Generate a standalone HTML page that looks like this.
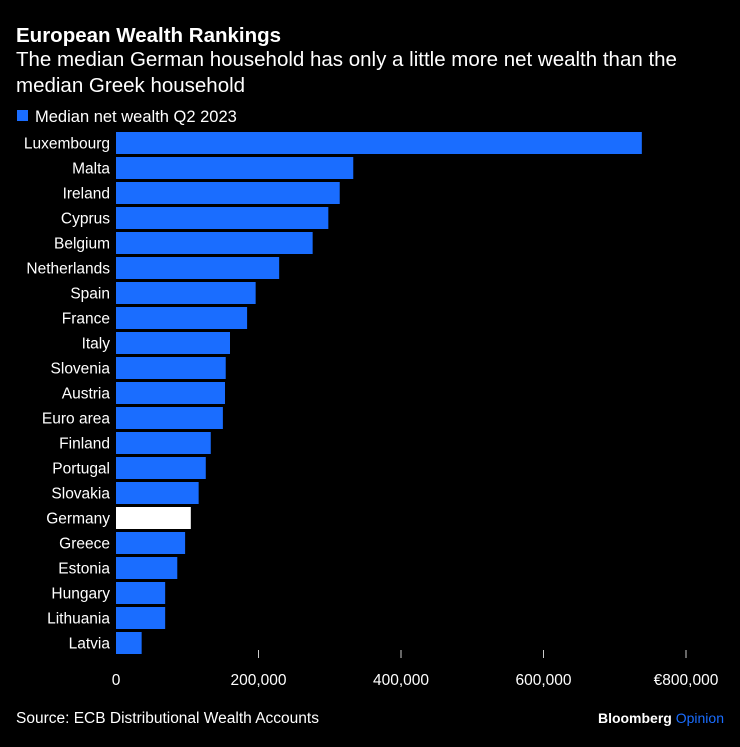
<!DOCTYPE html>
<html><head><meta charset="utf-8"><style>
body{margin:0;background:#000;width:740px;height:742px;overflow:hidden;font-family:"Liberation Sans",sans-serif;color:#fff}
</style></head><body>
<svg width="740" height="742" id="c" font-family="Liberation Sans, sans-serif">
<text x="16" y="42" font-size="20.5" font-weight="bold" fill="#fff">European Wealth Rankings</text>
<text x="16" y="66" font-size="20.5" fill="#fff">The median German household has only a little more net wealth than the</text>
<text x="16" y="92" font-size="20.5" fill="#fff">median Greek household</text>
<rect x="17" y="110" width="11" height="11" fill="#1a6dff"/>
<text x="35" y="122" font-size="16.5" fill="#fff">Median net wealth Q2 2023</text>
<g id="bars"></g>
<g id="axis"></g>
<text x="16" y="723" font-size="15.5" fill="#fff">Source: ECB Distributional Wealth Accounts</text>
<text x="724" y="723" font-size="14" text-anchor="end" font-weight="bold" fill="#fff">Bloomberg <tspan fill="#1a6dff" font-weight="normal">Opinion</tspan></text>
</svg>
<script>
const categories=["Luxembourg","Malta","Ireland","Cyprus","Belgium","Netherlands","Spain","France","Italy","Slovenia","Austria","Euro area","Finland","Portugal","Slovakia","Germany","Greece","Estonia","Hungary","Lithuania","Latvia"];
const values=[738000,333000,314000,298000,276000,229000,196000,184000,160000,154000,153000,150000,133000,126000,116000,105000,97000,86000,69000,69000,36000];
const ticks=[0,200000,400000,600000,800000];
const tickLabels=["0","200,000","400,000","600,000","€800,000"];
const NS="http://www.w3.org/2000/svg";
const x=v=>116+v*(570/800000);
const y=i=>132+i*25;
const bars=document.getElementById('bars'),axis=document.getElementById('axis');
categories.forEach((c,i)=>{
 const r=document.createElementNS(NS,'rect');
 r.setAttribute('x',x(0));r.setAttribute('y',y(i));r.setAttribute('width',x(values[i])-x(0));r.setAttribute('height',22);
 r.setAttribute('fill',c==="Germany"?"#fff":"#1a6dff");
 
 
 bars.appendChild(r);
 const t=document.createElementNS(NS,'text');
 t.setAttribute('x',110);t.setAttribute('y',y(i)+16.5);t.setAttribute('text-anchor','end');t.setAttribute('font-size','15.5');t.setAttribute('fill','#fff');
 t.textContent=c;
 
 
 bars.appendChild(t);
});
ticks.forEach((v,i)=>{
 if(i>0){const l=document.createElementNS(NS,'line');
 l.setAttribute('x1',x(v));l.setAttribute('x2',x(v));l.setAttribute('y1',650);l.setAttribute('y2',658);l.setAttribute('stroke','#ccc');l.setAttribute('stroke-width','1');
 
 
 axis.appendChild(l);}
 const t=document.createElementNS(NS,'text');
 t.setAttribute('x',x(v));t.setAttribute('y',685);t.setAttribute('text-anchor','middle');t.setAttribute('font-size','15.5');t.setAttribute('fill','#fff');
 t.textContent=tickLabels[i];
 
 
 axis.appendChild(t);
});
</script>
</body></html>
